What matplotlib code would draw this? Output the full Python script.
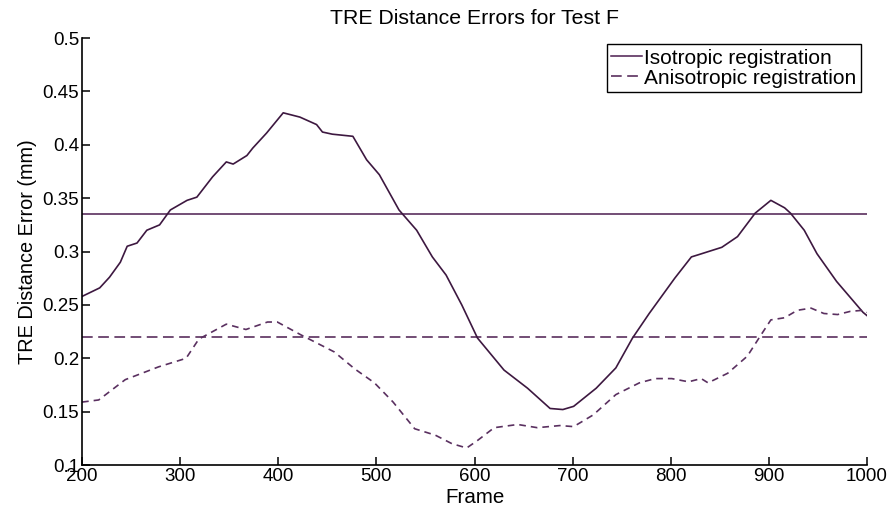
import matplotlib
matplotlib.use("Agg")
import matplotlib.pyplot as plt
from matplotlib.ticker import FuncFormatter

plt.rcParams['font.family'] = ['Liberation Sans', 'DejaVu Sans']

# values
iso_frames = [200, 218, 228, 239, 246, 256, 266, 279, 290, 307, 317, 333, 347, 354, 368, 374,
              388, 405, 422, 439, 445, 455, 476, 490, 503, 523, 541, 557, 571, 587, 603, 630,
              654, 677, 690, 701, 724, 744, 761, 778, 804, 821, 828, 852, 868, 886, 902, 916,
              922, 936, 949, 969, 996, 1000]
iso_err = [0.258, 0.266, 0.276, 0.290, 0.305, 0.308, 0.320, 0.325, 0.339, 0.348, 0.351, 0.370,
           0.384, 0.382, 0.390, 0.397, 0.411, 0.430, 0.426, 0.419, 0.412, 0.410, 0.408, 0.386,
           0.372, 0.339, 0.320, 0.295, 0.278, 0.250, 0.219, 0.189, 0.172, 0.153, 0.152, 0.155,
           0.172, 0.191, 0.219, 0.242, 0.275, 0.295, 0.297, 0.304, 0.314, 0.336, 0.348, 0.341,
           0.336, 0.320, 0.298, 0.272, 0.243, 0.240]

aniso_frames = [200, 217, 244, 278, 306, 319, 347, 367, 389, 399, 423, 457, 478, 498, 517, 539,
                560, 577, 592, 603, 620, 644, 664, 687, 701, 721, 744, 768, 784, 801, 818, 831,
                838, 858, 878, 892, 902, 916, 929, 943, 956, 970, 983, 996, 1000]
aniso_err = [0.159, 0.161, 0.180, 0.192, 0.200, 0.218, 0.232, 0.227, 0.234, 0.234, 0.222, 0.206,
             0.190, 0.177, 0.159, 0.134, 0.128, 0.120, 0.116, 0.123, 0.135, 0.138, 0.135, 0.137,
             0.136, 0.147, 0.166, 0.177, 0.181, 0.181, 0.178, 0.181, 0.177, 0.186, 0.202, 0.222,
             0.236, 0.238, 0.245, 0.247, 0.242, 0.241, 0.244, 0.245, 0.243]

iso_mean = 0.335
aniso_mean = 0.22
frame_range = [200, 1000]

col = '#4b1c4f'

fig = plt.figure(figsize=(8.92, 5.15), dpi=100)
ax = fig.add_axes([0.092, 0.097, 0.880, 0.829])

ax.plot(frame_range, [iso_mean, iso_mean], color=col, lw=1.1, label='Isotropic registration')
ax.plot(frame_range, [aniso_mean, aniso_mean], color=col, lw=1.1, ls=(0, (7, 3.6)),
        label='Anisotropic registration')
ax.plot(iso_frames, iso_err, color='#3d1840', lw=1.2)
ax.plot(aniso_frames, aniso_err, color='#5a3060', lw=1.2, ls=(0, (4, 3)))

ax.set_xlim(200, 1000)
ax.set_ylim(0.1, 0.5)
ax.set_xticks(range(200, 1001, 100))
ax.set_yticks([0.1, 0.15, 0.2, 0.25, 0.3, 0.35, 0.4, 0.45, 0.5])
ax.yaxis.set_major_formatter(FuncFormatter(lambda v, p: '{:g}'.format(round(v, 2))))

for s in ['top', 'right']:
   ax.spines[s].set_visible(False)
for s in ['left', 'bottom']:
   ax.spines[s].set_linewidth(1.2)
ax.tick_params(direction='in', length=6, width=1.1, labelsize=13.5, pad=2)

ax.set_xlabel('Frame', fontsize=14.8, labelpad=2)
ax.set_ylabel('TRE Distance Error (mm)', fontsize=14.3, labelpad=4)
ax.set_title('TRE Distance Errors for Test F', fontsize=15.3, pad=10)

leg = ax.legend(loc='upper right', fontsize=15, handlelength=1.5, handletextpad=0.1,
                borderpad=0.2, labelspacing=0.05, fancybox=False, framealpha=1,
                borderaxespad=0.3)
leg.get_frame().set_edgecolor('black')
leg.get_frame().set_linewidth(1.0)

fig.savefig('out.png', dpi=100)
